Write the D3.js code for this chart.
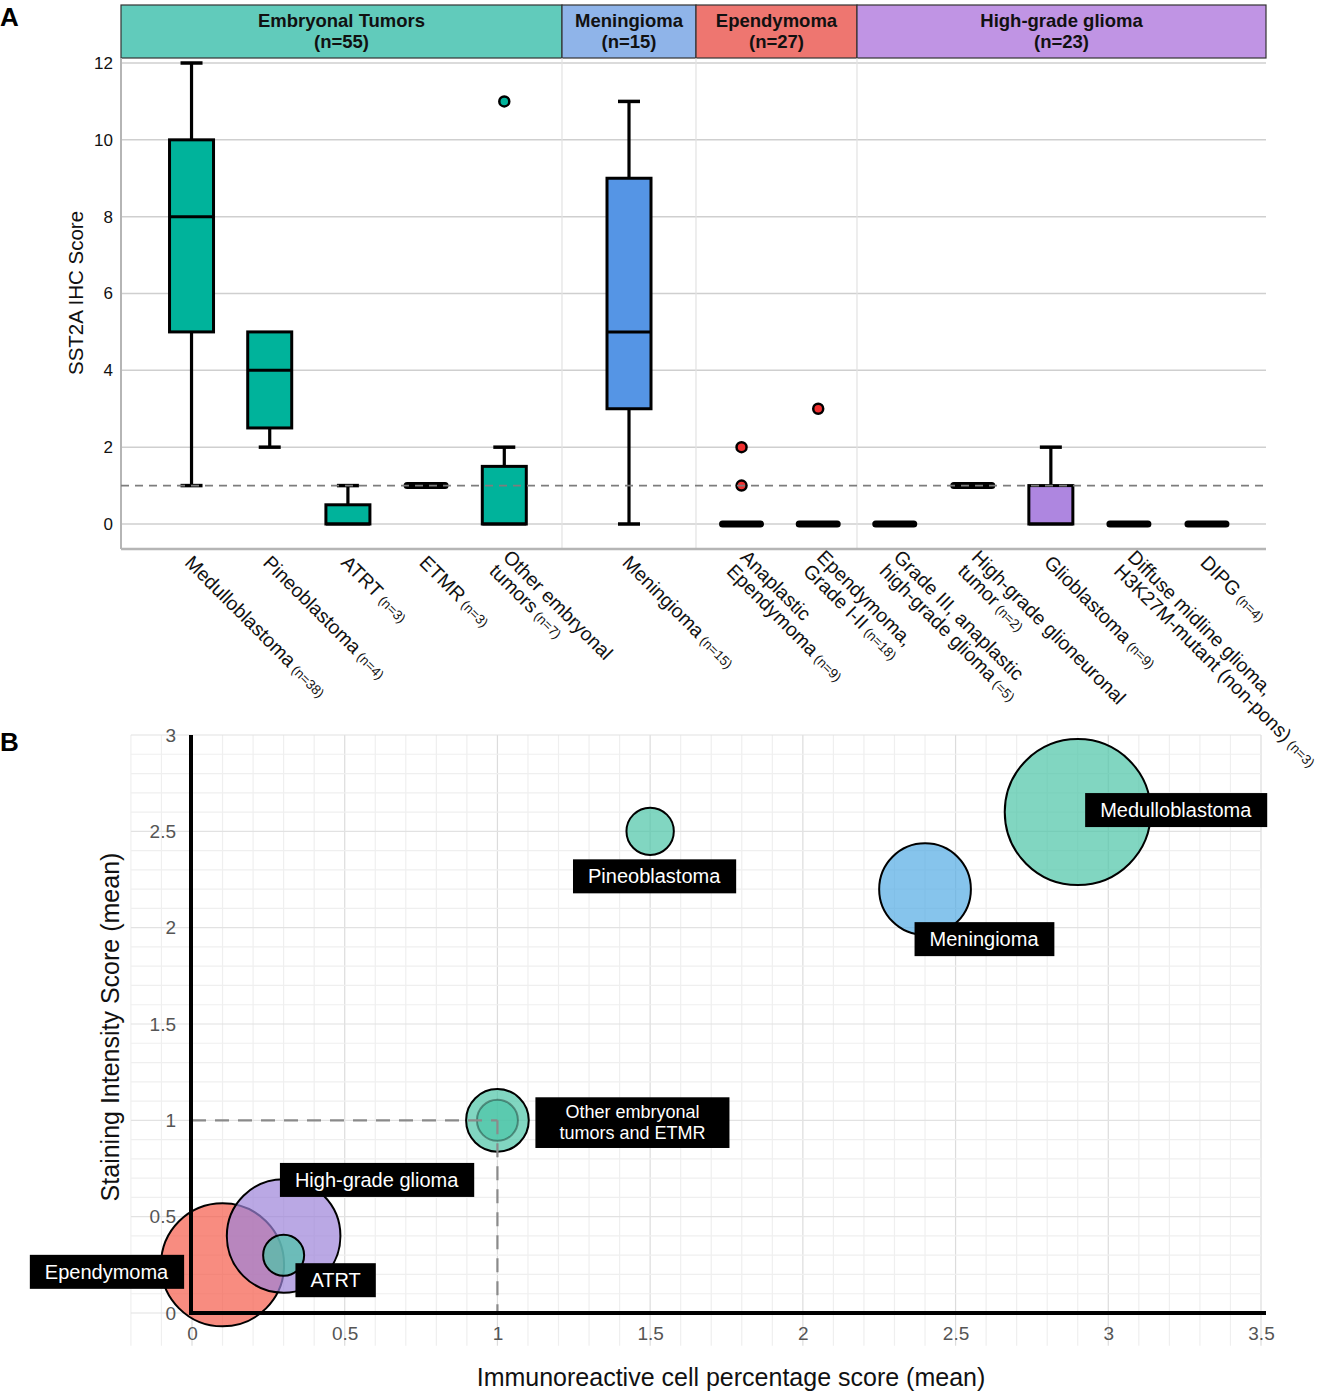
<!DOCTYPE html>
<html lang="en">
<head>
<meta charset="UTF-8">
<title>SST2A IHC score by tumor type</title>
<script src="https://d3js.org/d3.v7.min.js"></script>
<style>
  body { margin: 0; background: #fff; }
  svg text { font-family: "Liberation Sans", Arial, sans-serif; }
</style>
</head>
<body>
<script>
// ---------- Panel A data ----------
const groups = ["Embryonal Tumors", "Meningioma", "Ependymoma", "High-grade glioma"];
const groupN = [55, 15, 27, 23];

const tumorLabel = [
  ["Medulloblastoma"], ["Pineoblastoma"], ["ATRT"], ["ETMR"], ["Other embryonal", "tumors"],
  ["Meningioma"],
  ["Anaplastic", "Ependymoma"], ["Ependymoma,", "Grade I-II"],
  ["Grade III, anaplastic", "high-grade glioma"], ["High-grade glioneuronal", "tumor"],
  ["Glioblastoma"], ["Diffuse midline glioma,", "H3K27M-mutant (non-pons)"], ["DIPG"]
];
const tumorN = ["(n=38)", "(n=4)", "(n=3)", "(n=3)", "(n=7)", "(n=15)", "(n=9)", "(n=18)",
  "(=5)", "(n=2)", "(n=9)", "(n=3)", "(n=4)"];
const tumorGroup = [0, 0, 0, 0, 0, 1, 2, 2, 3, 3, 3, 3, 3];

const whiskerLow  = [1, 2,   0,   1, 0,   0, 0, 0, 0, 1, 0, 0, 0];
const q1          = [5, 2.5, 0,   1, 0,   3, 0, 0, 0, 1, 0, 0, 0];
const median      = [8, 4,   0,   1, 0,   5, 0, 0, 0, 1, 0, 0, 0];
const q3          = [10, 5,  0.5, 1, 1.5, 9, 0, 0, 0, 1, 1, 0, 0];
const whiskerHigh = [12, 5,  1,   1, 2,  11, 0, 0, 0, 1, 2, 0, 0];
const outliers    = [[], [], [], [], [11], [], [2, 1], [3], [], [], [], [], []];

const yTicksA = [0, 2, 4, 6, 8, 10, 12];
const refLine = 1;

// ---------- Panel B data ----------
const bubbleName  = ["Ependymoma", "High-grade glioma", "ATRT", "Other embryonal tumors", "ETMR",
  "Pineoblastoma", "Meningioma", "Medulloblastoma"];
const bubbleX     = [0.1, 0.3, 0.3, 1.0, 1.0, 1.5, 2.4, 2.9];
const bubbleY     = [0.25, 0.4, 0.3, 1.0, 1.0, 2.5, 2.2, 2.6];
const bubbleN     = [27, 23, 3, 7, 3, 4, 15, 38];
const bubbleGroup = [2, 3, 0, 0, 0, 0, 1, 0];
const bubbleText  = [["Ependymoma"], ["High-grade glioma"], ["ATRT"], ["Other embryonal", "tumors and ETMR"], null,
  ["Pineoblastoma"], ["Meningioma"], ["Medulloblastoma"]];
const xTicksB = [0, 0.5, 1, 1.5, 2, 2.5, 3, 3.5];
const yTicksB = [0, 0.5, 1, 1.5, 2, 2.5, 3];

// ---------- styles ----------
const stripFill  = ["#61cbbb", "#8fb4e9", "#ee7670", "#c094e4"];
const boxFill    = ["#00b39b", "#5595e5", "#f03030", "#ae86e0"];
const bubbleFill = ["#4cc5a6", "#52abe4", "#f55b4a", "#9d83d9"];

const W = 1331, H = 1391;
const svg = d3.select("body").append("svg").attr("width", W).attr("height", H);

// panel letters
svg.append("text").attr("x", 0).attr("y", 26).attr("font-size", 26).attr("font-weight", "bold").text("A");
svg.append("text").attr("x", 0).attr("y", 751).attr("font-size", 26).attr("font-weight", "bold").text("B");

// =================== PANEL A ===================
const gA = svg.append("g");
const facetEdges = [121, 562, 696, 857, 1266];
const facetPad = [0.82, 0.5, 0.55, 0.62];
const facetAlign = [0.55, 0.5, 0.54, 0.39];
const plotTopA = 58, plotBottomA = 549;

const yA = d3.scaleLinear().domain([0, 12]).range([524, 63]);
const keys = tumorLabel.map(d => d.join(" "));
const xA = {};
groups.forEach((g, gi) => {
  const cats = keys.filter((k, i) => tumorGroup[i] === gi);
  const s = d3.scalePoint().domain(cats).range([facetEdges[gi], facetEdges[gi + 1]])
    .padding(facetPad[gi]).align(facetAlign[gi]);
  cats.forEach(c => xA[c] = s(c));
});

// header strips
groups.forEach((g, i) => {
  const x0 = facetEdges[i], x1 = facetEdges[i + 1], cx = (x0 + x1) / 2;
  gA.append("rect").attr("x", x0).attr("y", 5).attr("width", x1 - x0).attr("height", plotTopA - 5)
    .attr("fill", stripFill[i]).attr("stroke", "#333").attr("stroke-width", 1.2);
  const t = gA.append("text").attr("text-anchor", "middle").attr("font-size", 18.5).attr("font-weight", "bold").attr("fill", "#111");
  t.append("tspan").attr("x", cx).attr("y", 27).text(g);
  t.append("tspan").attr("x", cx).attr("y", 48).text(`(n=${groupN[i]})`);
});

// grid
gA.append("g").selectAll("line").data(yTicksA).join("line")
  .attr("x1", facetEdges[0]).attr("x2", facetEdges[4])
  .attr("y1", d => yA(d)).attr("y2", d => yA(d))
  .attr("stroke", "#cfcfcf").attr("stroke-width", 1.5);
gA.append("g").selectAll("line").data(facetEdges.slice(1, 4)).join("line")
  .attr("x1", d => d).attr("x2", d => d).attr("y1", plotTopA).attr("y2", plotBottomA)
  .attr("stroke", "#e2e2e2").attr("stroke-width", 1.2);

// axis lines
gA.append("line").attr("x1", facetEdges[0]).attr("x2", facetEdges[0]).attr("y1", plotTopA).attr("y2", plotBottomA)
  .attr("stroke", "#b5b5b5").attr("stroke-width", 2);
gA.append("line").attr("x1", facetEdges[0]).attr("x2", facetEdges[4]).attr("y1", plotBottomA).attr("y2", plotBottomA)
  .attr("stroke", "#b5b5b5").attr("stroke-width", 2.5);

// y axis ticks
const axA = gA.append("g").attr("transform", `translate(${facetEdges[0]},0)`)
  .call(d3.axisLeft(yA).tickValues(yTicksA).tickSize(0).tickPadding(8));
axA.select(".domain").remove();
axA.selectAll("text").attr("font-size", 17).attr("fill", "#111").style("font-family", '"Liberation Sans", Arial, sans-serif');

gA.append("text").attr("transform", "translate(75,293) rotate(-90)").attr("text-anchor", "middle")
  .attr("dominant-baseline", "central").attr("font-size", 20.5).attr("fill", "#111").text("SST2A IHC Score");

// boxes
const boxW = 44, capW = 22;
keys.forEach((k, i) => {
  const cx = xA[k], col = boxFill[tumorGroup[i]];
  const g = gA.append("g");
  if (whiskerLow[i] < q1[i]) {
    g.append("line").attr("x1", cx).attr("x2", cx).attr("y1", yA(whiskerLow[i])).attr("y2", yA(q1[i]))
      .attr("stroke", "#000").attr("stroke-width", 3.2);
    g.append("line").attr("x1", cx - capW / 2).attr("x2", cx + capW / 2).attr("y1", yA(whiskerLow[i])).attr("y2", yA(whiskerLow[i]))
      .attr("stroke", "#000").attr("stroke-width", 3.5);
  }
  if (whiskerHigh[i] > q3[i]) {
    g.append("line").attr("x1", cx).attr("x2", cx).attr("y1", yA(whiskerHigh[i])).attr("y2", yA(q3[i]))
      .attr("stroke", "#000").attr("stroke-width", 3.2);
    g.append("line").attr("x1", cx - capW / 2).attr("x2", cx + capW / 2).attr("y1", yA(whiskerHigh[i])).attr("y2", yA(whiskerHigh[i]))
      .attr("stroke", "#000").attr("stroke-width", 3.5);
  }
  if (q3[i] > q1[i]) {
    g.append("rect").attr("x", cx - boxW / 2).attr("y", yA(q3[i])).attr("width", boxW)
      .attr("height", yA(q1[i]) - yA(q3[i])).attr("fill", col).attr("stroke", "#000").attr("stroke-width", 3);
    g.append("line").attr("x1", cx - boxW / 2).attr("x2", cx + boxW / 2).attr("y1", yA(median[i])).attr("y2", yA(median[i]))
      .attr("stroke", "#000").attr("stroke-width", 3);
  } else {
    // collapsed box: thick bar
    g.append("line").attr("x1", cx - boxW / 2 + 3).attr("x2", cx + boxW / 2 - 3).attr("y1", yA(median[i])).attr("y2", yA(median[i]))
      .attr("stroke", "#000").attr("stroke-width", 7).attr("stroke-linecap", "round");
  }
  outliers[i].forEach(v => {
    g.append("circle").attr("cx", cx).attr("cy", yA(v)).attr("r", 5)
      .attr("fill", col).attr("stroke", "#000").attr("stroke-width", 2.5);
  });
});

// reference line
gA.append("line").attr("x1", facetEdges[0]).attr("x2", facetEdges[4]).attr("y1", yA(refLine)).attr("y2", yA(refLine))
  .attr("stroke", "#7d7d7d").attr("stroke-width", 1.8).attr("stroke-dasharray", "8,6");

// x labels
const labFs = 19.5;
keys.forEach((k, i) => {
  const lines = tumorLabel[i], nl = lines.length;
  const t = gA.append("text").attr("transform", `translate(${xA[k] - 3},559) rotate(45)`)
    .attr("font-size", labFs).attr("fill", "#111");
  lines.forEach((ln, j) => {
    t.append("tspan").attr("x", 0).attr("y", (j - (nl - 1) / 2) * labFs * 1.0 + (nl > 1 ? 2 : 0))
      .attr("dy", "0.35em").text(ln);
  });
  t.append("tspan").attr("font-size", 13.5).attr("dx", 4).text(tumorN[i]);
});

// =================== PANEL B ===================
const gB = svg.append("g");
const xB = d3.scaleLinear().domain([0, 3.5]).range([192, 1261]);
const yB = d3.scaleLinear().domain([0, 3]).range([1313, 735]);
const rB = d3.scaleSqrt().domain([0, 38]).range([0, 73]);

const gridX = d3.range(-2, 36).map(d => d / 10);
const gridY = d3.range(0, 31).map(d => d / 10);
const isMajor = v => Math.abs(v * 2 - Math.round(v * 2)) < 1e-6;
gB.append("g").selectAll("line").data(gridX).join("line")
  .attr("x1", d => xB(d)).attr("x2", d => xB(d)).attr("y1", yB(3)).attr("y2", yB(-0.17))
  .attr("stroke", d => isMajor(d) ? "#dcdcdc" : "#efefef").attr("stroke-width", 1.2);
gB.append("g").selectAll("line").data(gridY).join("line")
  .attr("x1", xB(-0.2)).attr("x2", xB(3.5)).attr("y1", d => yB(d)).attr("y2", d => yB(d))
  .attr("stroke", d => isMajor(d) ? "#e2e2e2" : "#efefef").attr("stroke-width", 1.2);

const fontB = '"Liberation Sans", Arial, sans-serif';
const axBx = gB.append("g").attr("transform", `translate(0,${yB(0)})`)
  .call(d3.axisBottom(xB).tickValues(xTicksB).tickFormat(d3.format("~g")).tickSize(0).tickPadding(14));
axBx.select(".domain").remove();
axBx.selectAll("text").attr("font-size", 19).attr("fill", "#555").style("font-family", fontB);
const axBy = gB.append("g").attr("transform", `translate(${xB(0)},0)`)
  .call(d3.axisLeft(yB).tickValues(yTicksB).tickFormat(d3.format("~g")).tickSize(0).tickPadding(16));
axBy.select(".domain").remove();
axBy.selectAll("text").attr("font-size", 19).attr("fill", "#555").style("font-family", fontB);

// bubbles
bubbleName.forEach((n, i) => {
  gB.append("circle").attr("cx", xB(bubbleX[i])).attr("cy", yB(bubbleY[i])).attr("r", rB(bubbleN[i]))
    .attr("fill", bubbleFill[bubbleGroup[i]]).attr("fill-opacity", 0.7)
    .attr("stroke", "#000").attr("stroke-width", 2).attr("stroke-opacity", n === "ETMR" ? 0.35 : 1);
});

// dashed guides to (1,1)
const dash = gB.append("g").attr("stroke", "#8a8a8a").attr("stroke-width", 2.2).attr("stroke-dasharray", "14,9");
dash.append("line").attr("x1", xB(0)).attr("x2", xB(1)).attr("y1", yB(1)).attr("y2", yB(1));
dash.append("line").attr("x1", xB(1)).attr("x2", xB(1)).attr("y1", yB(1)).attr("y2", yB(0));

// axis lines
gB.append("line").attr("x1", xB(0) - 1).attr("x2", 1266).attr("y1", yB(0)).attr("y2", yB(0))
  .attr("stroke", "#000").attr("stroke-width", 4);
gB.append("line").attr("x1", xB(0) - 1).attr("x2", xB(0) - 1).attr("y1", yB(3)).attr("y2", yB(0) + 2)
  .attr("stroke", "#000").attr("stroke-width", 4);

// labels (repelled offsets in px)
const labelNudge = {
  "Ependymoma": [-116, 7], "High-grade glioma": [93, -56], "ATRT": [52, 25],
  "Other embryonal tumors": [135, 2], "Pineoblastoma": [4, 45], "Meningioma": [59, 50],
  "Medulloblastoma": [98, -2]
};
bubbleName.forEach((n, i) => {
  if (!bubbleText[i]) return;
  const [dx, dy] = labelNudge[n];
  const lines = bubbleText[i], nl = lines.length;
  const fs = nl > 1 ? 18 : 20;
  const g = gB.append("g").attr("transform", `translate(${xB(bubbleX[i]) + dx},${yB(bubbleY[i]) + dy})`);
  const rect = g.append("rect").attr("fill", "#000");
  const t = g.append("text").attr("text-anchor", "middle").attr("font-size", fs).attr("fill", "#fff");
  lines.forEach((ln, j) => {
    t.append("tspan").attr("x", 0).attr("y", (j - (nl - 1) / 2) * fs * 1.15).attr("dy", "0.35em").text(ln);
  });
  const bb = t.node().getBBox();
  const px = nl > 1 ? 24 : 15, py = nl > 1 ? 5 : 6;
  rect.attr("x", bb.x - px).attr("y", bb.y - py).attr("width", bb.width + 2 * px).attr("height", bb.height + 2 * py);
});

// axis titles
gB.append("text").attr("x", 731).attr("y", 1386).attr("text-anchor", "middle").attr("font-size", 25)
  .attr("fill", "#111").text("Immunoreactive cell percentage score (mean)");
gB.append("text").attr("transform", "translate(110,1027) rotate(-90)").attr("text-anchor", "middle")
  .attr("dominant-baseline", "central").attr("font-size", 25).attr("fill", "#111").text("Staining Intensity Score (mean)");
</script>
</body>
</html>
